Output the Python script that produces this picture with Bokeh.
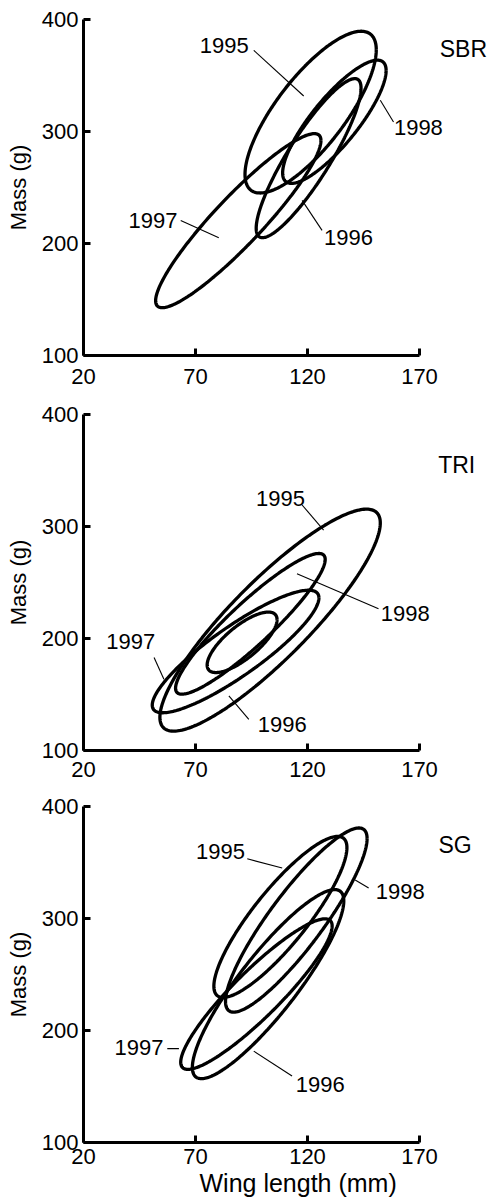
import numpy as np
from bokeh.plotting import figure
from bokeh.models import FixedTicker, Label, Range1d, Title
from bokeh.layouts import column
from bokeh.embed import file_html
from bokeh.resources import INLINE

years = ["1995", "1996", "1997", "1998"]
x_ticks = [20, 70, 120, 170]
y_ticks = [100, 200, 300, 400]

# ellipse parameters per site: centre, half x-extent, half y-extent, correlation
sbr_cx = [121.4, 120.5, 89.1, 132.0]
sbr_cy = [317.3, 276.2, 220.4, 308.7]
sbr_hw = [29.3, 23.4, 36.9, 23.1]
sbr_hh = [72.2, 71.0, 77.7, 55.0]
sbr_r = [0.77, 0.88, 0.92, 0.83]

tri_cx = [103.3, 90.8, 87.9, 94.5]
tri_cy = [216.4, 196.6, 188.4, 213.1]
tri_hw = [49.2, 15.6, 37.2, 33.4]
tri_hh = [99.1, 27.0, 54.7, 62.8]
tri_r = [0.875, 0.75, 0.875, 0.915]

sg_cx = [107.9, 102.4, 97.2, 115.0]
sg_cy = [301.4, 241.4, 232.5, 298.6]
sg_hw = [29.7, 33.8, 33.8, 31.6]
sg_hh = [71.9, 84.4, 67.2, 82.2]
sg_r = [0.86, 0.88, 0.905, 0.885]

# year label anchors (data units) and leader lines
sbr_lab_x = [82.8, 138.3, 51.0, 169.5]
sbr_lab_y = [377.0, 205.5, 220.4, 303.5]
sbr_ld_x0 = [96.0, 117.6, 63.4, 152.5]
sbr_ld_y0 = [372.5, 238.5, 220.6, 327.9]
sbr_ld_x1 = [118.3, 126.5, 80.4, 158.4]
sbr_ld_y1 = [331.7, 211.7, 205.2, 308.5]

tri_lab_x = [107.9, 108.7, 41.1, 163.6]
tri_lab_y = [325.3, 123.3, 197.5, 222.6]
tri_ld_x0 = [117.6, 93.8, 51.5, 151.7]
tri_ld_y0 = [319.2, 127.8, 183.1, 226.5]
tri_ld_x1 = [127.2, 84.9, 55.9, 115.3]
tri_ld_y1 = [296.8, 148.7, 163.7, 257.9]

sg_lab_x = [81.2, 125.7, 44.8, 161.4]
sg_lab_y = [359.8, 152.0, 184.7, 324.2]
sg_ld_x0 = [93.1, 96.0, 57.4, 141.3]
sg_ld_y0 = [353.3, 181.6, 183.8, 334.4]
sg_ld_x1 = [108.7, 113.1, 62.6, 147.3]
sg_ld_y1 = [345.1, 159.3, 183.8, 327.2]

sites = ["SBR", "TRI", "SG"]
site_x = [189.6, 186.6, 185.9]
site_y = [373.5, 355.1, 365.8]

FONT = "Liberation Sans"
X_END = 20 + 406 / 2.24  # frame extends right of the axis to hold site names


def ellipse(cx, cy, hw, hh, r, n=240):
    t = np.linspace(0, 2 * np.pi, n)
    d = np.arccos(r)
    return cx + hw * np.cos(t), cy + hh * np.cos(t - d)


def panel(cx, cy, hw, hh, rr, lx, ly, x0, y0, x1, y1, site, sx, sy,
          top, bottom, x_standoff, xlabel):
    p = figure(frame_width=406, frame_height=336,
               x_range=Range1d(20, X_END), y_range=Range1d(100, 400),
               output_backend="svg", toolbar_location=None,
               min_border_left=83, min_border_right=0,
               min_border_top=top, min_border_bottom=bottom)
    p.outline_line_color = None
    p.grid.visible = False
    p.background_fill_color = "white"
    p.border_fill_color = "white"
    for ax, ticks, bnds in ((p.xaxis[0], x_ticks, (20, 170)),
                            (p.yaxis[0], y_ticks, (100, 400))):
        ax.ticker = FixedTicker(ticks=ticks)
        ax.bounds = bnds
        ax.axis_line_width = 3
        ax.axis_line_color = "black"
        ax.major_tick_line_width = 3
        ax.major_tick_line_color = "black"
        ax.major_tick_in = 7
        ax.major_tick_out = 0
        ax.minor_tick_line_color = None
        ax.major_label_text_font = FONT
        ax.major_label_text_font_size = "22px"
        ax.major_label_text_color = "black"
        ax.axis_label_text_font = FONT
        ax.axis_label_text_font_style = "normal"
        ax.axis_label_text_color = "black"
    p.xaxis.major_label_standoff = x_standoff
    p.yaxis.major_label_standoff = 5
    p.yaxis.axis_label = "Mass (g)"
    p.yaxis.axis_label_text_font_size = "22px"
    p.yaxis.axis_label_standoff = 8

    xs, ys = [], []
    for i in range(len(years)):
        ex, ey = ellipse(cx[i], cy[i], hw[i], hh[i], rr[i])
        xs.append(ex)
        ys.append(ey)
    p.multi_line(xs, ys, line_color="black", line_width=3.3)
    p.segment(x0=x0, y0=y0, x1=x1, y1=y1, line_color="black", line_width=1.1)
    for i, yr in enumerate(years):
        p.add_layout(Label(x=lx[i], y=ly[i], text=yr, text_align="center",
                           text_baseline="middle", text_font=FONT,
                           text_font_size="22px", text_color="black"))
    p.add_layout(Label(x=sx, y=sy, text=site, text_align="center",
                       text_baseline="middle", text_font=FONT,
                       text_font_size="23px", text_color="black"))
    if xlabel:
        p.add_layout(Title(text=xlabel, align="left", offset=116,
                           standoff=0, text_font=FONT, text_font_size="25px",
                           text_font_style="normal", text_color="black"),
                     "below")
    return p


p1 = panel(sbr_cx, sbr_cy, sbr_hw, sbr_hh, sbr_r, sbr_lab_x, sbr_lab_y,
           sbr_ld_x0, sbr_ld_y0, sbr_ld_x1, sbr_ld_y1, sites[0], site_x[0], site_y[0],
           19, 40, 13, None)
p2 = panel(tri_cx, tri_cy, tri_hw, tri_hh, tri_r, tri_lab_x, tri_lab_y,
           tri_ld_x0, tri_ld_y0, tri_ld_x1, tri_ld_y1, sites[1], site_x[1], site_y[1],
           19, 40, 11, None)
p3 = panel(sg_cx, sg_cy, sg_hw, sg_hh, sg_r, sg_lab_x, sg_lab_y,
           sg_ld_x0, sg_ld_y0, sg_ld_x1, sg_ld_y1, sites[2], site_x[2], site_y[2],
           16, 59, 6, "Wing length (mm)")

layout = column(p1, p2, p3, spacing=0)
open("out.html", "w").write(file_html(layout, INLINE))
